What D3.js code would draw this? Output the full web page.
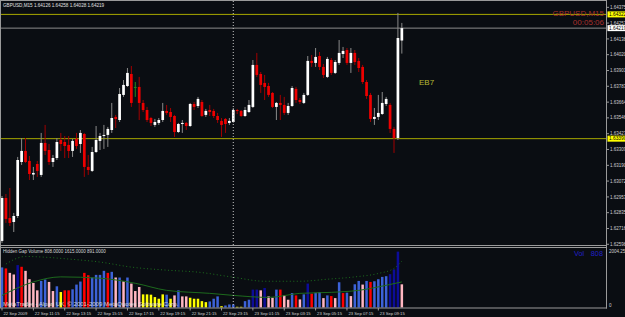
<!DOCTYPE html>
<html>
<head>
<meta charset="utf-8">
<script src="https://cdnjs.cloudflare.com/ajax/libs/d3/7.8.5/d3.min.js"></script>
<style>
body { margin: 0; background: #0a0d12; }
svg { display: block; }
text { font-family: "Liberation Sans", Arial, sans-serif; }
</style>
</head>
<body>
<div id="chart"></div>
<script>
// GBPUSD M15 bars, 22 Sep 09:15 .. 23 Sep 10:45
var symbol = "GBPUSD,M15";

var openP = [1.62623,1.62945,1.62795,1.62765,1.62810,1.63215,1.63298,1.63223,1.63121,1.63200,
 1.63118,1.63358,1.63305,1.63215,1.63245,1.63380,1.63365,1.63343,1.63298,1.63388,
 1.63350,1.63425,1.63178,1.63148,1.63290,1.63373,1.63410,1.63418,1.63455,1.63553,
 1.63530,1.63718,1.63785,1.63875,1.63778,1.63778,1.63658,1.63605,1.63545,1.63493,
 1.63508,1.63530,1.63598,1.63590,1.63560,1.63440,1.63500,1.63508,1.63485,1.63650,
 1.63635,1.63665,1.63568,1.63605,1.63598,1.63560,1.63523,1.63538,1.63508,1.63515,
 1.63605,1.63598,1.63560,1.63590,1.63628,1.63943,1.63875,1.63808,1.63785,1.63733,
 1.63628,1.63658,1.63643,1.63583,1.63635,1.63763,1.63680,1.63658,1.63718,1.63973,
 1.63958,1.64010,1.63928,1.63853,1.63980,1.63883,1.63958,1.64025,1.64055,1.63958,
 1.64033,1.63973,1.63928,1.63815,1.63718,1.63538,1.63553,1.63575,1.63650,1.63643,
 1.63463,1.63395,1.64126];

var highP = [1.62960,1.62975,1.63020,1.62833,1.63253,1.63395,1.63395,1.63260,1.63178,1.63223,
 1.63433,1.63493,1.63350,1.63268,1.63395,1.63433,1.63410,1.63410,1.63388,1.63433,
 1.63455,1.63433,1.63268,1.63328,1.63485,1.63433,1.63493,1.63478,1.63658,1.63568,
 1.63770,1.63830,1.63920,1.63935,1.63815,1.63853,1.63680,1.63628,1.63553,1.63538,
 1.63545,1.63658,1.63643,1.63620,1.63568,1.63508,1.63530,1.63515,1.63658,1.63665,
 1.63703,1.63680,1.63613,1.63643,1.63613,1.63583,1.63545,1.63545,1.63545,1.63620,
 1.63613,1.63605,1.63628,1.63680,1.63980,1.64033,1.63890,1.63868,1.63808,1.63740,
 1.63665,1.63718,1.63703,1.63658,1.63785,1.63778,1.63695,1.63733,1.64010,1.64018,
 1.64070,1.64040,1.63950,1.64003,1.63995,1.63980,1.64130,1.64078,1.64070,1.64070,
 1.64055,1.63995,1.63943,1.63830,1.63733,1.63620,1.63718,1.63740,1.63703,1.63658,
 1.63478,1.64333,1.64258];

var lowP = [1.62608,1.62758,1.62735,1.62690,1.62795,1.63193,1.63208,1.63080,1.63080,1.63103,
 1.63103,1.63268,1.63193,1.63178,1.63230,1.63298,1.63245,1.63245,1.63253,1.63313,
 1.63283,1.63103,1.63118,1.63140,1.63283,1.63305,1.63313,1.63328,1.63433,1.63470,
 1.63515,1.63703,1.63778,1.63628,1.63703,1.63530,1.63590,1.63515,1.63485,1.63478,
 1.63493,1.63515,1.63568,1.63515,1.63403,1.63433,1.63433,1.63455,1.63478,1.63605,
 1.63620,1.63553,1.63553,1.63560,1.63545,1.63508,1.63403,1.63433,1.63493,1.63508,
 1.63575,1.63553,1.63553,1.63583,1.63620,1.63853,1.63733,1.63680,1.63703,1.63620,
 1.63530,1.63530,1.63568,1.63568,1.63628,1.63658,1.63650,1.63650,1.63710,1.63928,
 1.63928,1.63905,1.63845,1.63845,1.63868,1.63875,1.63943,1.63995,1.63943,1.63883,
 1.63943,1.63890,1.63800,1.63688,1.63515,1.63493,1.63530,1.63568,1.63635,1.63433,
 1.63283,1.63380,1.64028];

var closeP = [1.62945,1.62788,1.62758,1.62810,1.63230,1.63298,1.63215,1.63125,1.63133,1.63148,
 1.63358,1.63298,1.63215,1.63245,1.63365,1.63350,1.63335,1.63298,1.63373,1.63335,
 1.63433,1.63178,1.63155,1.63290,1.63380,1.63410,1.63418,1.63463,1.63545,1.63538,
 1.63725,1.63793,1.63883,1.63658,1.63778,1.63658,1.63605,1.63530,1.63508,1.63515,
 1.63530,1.63598,1.63583,1.63553,1.63440,1.63500,1.63508,1.63485,1.63650,1.63628,
 1.63688,1.63560,1.63598,1.63590,1.63560,1.63530,1.63493,1.63500,1.63523,1.63605,
 1.63598,1.63560,1.63605,1.63643,1.63943,1.63868,1.63793,1.63778,1.63718,1.63628,
 1.63658,1.63643,1.63583,1.63635,1.63770,1.63680,1.63665,1.63718,1.63973,1.63958,
 1.64003,1.63928,1.63868,1.63988,1.63883,1.63965,1.64033,1.64048,1.63958,1.64033,
 1.63965,1.63920,1.63815,1.63710,1.63538,1.63553,1.63583,1.63658,1.63688,1.63463,
 1.63395,1.64145,1.64219];

// hidden gap volume histogram
var volume = [1397,1362,1207,1151,1478,1419,1278,986,855,598,
 926,975,891,574,739,539,598,598,634,799,
 905,1207,1126,1045,1137,1137,1278,1207,1243,1045,
 1045,915,1045,834,574,715,458,458,447,363,
 306,458,447,306,422,598,387,387,341,306,
 306,222,187,211,306,387,46,70,106,106,
 25,25,222,271,623,623,598,679,387,341,
 623,623,422,271,503,422,282,458,834,482,
 517,539,327,422,398,327,880,503,517,398,
 810,926,799,926,891,915,986,1067,1091,1162,
 1327,1947,808];

var volKind = ("b r p p n r p p p p b b p p b y r r b b " +
 "b r r b b b b r b p b p b p p p y y y y " +
 "y y b y p b p p y y y y y b b b y b b b " +
 "y y b b n n p n p p b r p p b r p b n r " +
 "b b p b r p b r b p b b p b r b b b b n n n p").split(" ");

// the two averages on the volume window, read at a few bars
var maSlowBars = [1,4,6,10,17,25,33,42,50,59,67,76,83,90,96,100,102];
var maSlowVals = [1514,1725,1780,1760,1690,1584,1408,1302,1232,1056,915,915,986,1067,1186,1362,1615];
var maFastBars = [0,8,15,25,34,42,53,59,68,76,84,91,98,102];
var maFastVals = [422,891,1067,1021,845,598,493,422,352,493,528,598,774,891];

var timeLabels = ["22 Sep 2009","22 Sep 11:15","22 Sep 13:15","22 Sep 15:15","22 Sep 17:15",
 "22 Sep 19:15","22 Sep 21:15","22 Sep 23:15","23 Sep 01:15","23 Sep 03:15",
 "23 Sep 05:15","23 Sep 07:15","23 Sep 09:15"];
var timeLabelBars = [0,8,16,24,32,40,48,56,64,72,80,88,96];
var daySeparatorBar = 59;

var priceTicks = ["1.64375","1.64257","1.64138","1.64020","1.63901","1.63783","1.63664","1.63546",
 "1.63427","1.63309","1.63190","1.63072","1.62953","1.62835","1.62716","1.62598"];
var levelLines = [1.64322, 1.63390];
var bidPrice = 1.64219;
var volMax = 2004.25;
var maLegend = [808, 1615, 891];
var timer = "00:05:06";

var svg = d3.select("#chart").append("svg")
    .attr("width", 625)
    .attr("height", 317)
    .style("background", "#0a0d12");

var x = d3.scaleLinear().domain([0, openP.length - 1]).range([2, 2 + 3.92 * (openP.length - 1)]);
var y = d3.scaleLinear().domain([1.6443, 1.625925]).range([0, 245]);
var yv = d3.scaleLinear().domain([0, volMax]).range([307.5, 250]);

var defs = svg.append("defs");
defs.append("clipPath").attr("id", "mainclip")
    .append("rect").attr("x", 1).attr("y", 1).attr("width", 605).attr("height", 244);
defs.append("clipPath").attr("id", "volclip")
    .append("rect").attr("x", 1).attr("y", 248).attr("width", 605).attr("height", 60);

var main = svg.append("g").attr("clip-path", "url(#mainclip)");
var volg = svg.append("g").attr("clip-path", "url(#volclip)");

//level lines and bid line
main.selectAll(".level")
    .data(levelLines)
    .enter()
    .append("line")
        .attr("x1", 0).attr("x2", 607)
        .attr("y1", function(d) { return y(d); })
        .attr("y2", function(d) { return y(d); })
        .style("stroke", "#a8a800")
        .style("stroke-width", 1);

main.append("line")
    .attr("x1", 0).attr("x2", 607)
    .attr("y1", y(bidPrice)).attr("y2", y(bidPrice))
    .style("stroke", "#8c8c8c")
    .style("stroke-width", 1);

var bars = d3.range(openP.length);

//wicks
main.selectAll(".wick")
    .data(bars)
    .enter()
    .append("line")
        .attr("x1", function(i) { return x(i); })
        .attr("x2", function(i) { return x(i); })
        .attr("y1", function(i) { return y(highP[i]); })
        .attr("y2", function(i) { return y(lowP[i]); })
        .style("stroke", function(i) {
            if (closeP[i] == openP[i]) return "#1f8a1f";
            return closeP[i] > openP[i] ? "#8a8a8a" : "#a00000";
        })
        .style("stroke-width", 1);

//bodies
main.selectAll(".body")
    .data(bars)
    .enter()
    .append("rect")
        .attr("x", function(i) { return x(i) - 1.35; })
        .attr("width", 2.7)
        .attr("y", function(i) { return y(Math.max(openP[i], closeP[i])); })
        .attr("height", function(i) {
            return Math.max(1, Math.abs(y(openP[i]) - y(closeP[i])));
        })
        .style("fill", function(i) {
            if (closeP[i] == openP[i]) return "#1f8a1f";
            return closeP[i] > openP[i] ? "#ffffff" : "#ee0000";
        });

main.append("text")
    .attr("x", 419).attr("y", 85)
    .attr("font-size", "8px")
    .style("fill", "#b9b932")
    .text("EB7");

main.append("text")
    .attr("x", 3).attr("y", 7)
    .attr("font-size", "4.6px")
    .style("fill", "#e0e0e0")
    .text(symbol + "  " + openP[102].toFixed(5) + " " + highP[102].toFixed(5) + " " +
          lowP[102].toFixed(5) + " " + closeP[102].toFixed(5));

main.append("text")
    .attr("x", 604).attr("y", 16)
    .attr("text-anchor", "end")
    .attr("font-size", "8px")
    .style("fill", "#a8302c")
    .text(symbol);

main.append("text")
    .attr("x", 604).attr("y", 25)
    .attr("text-anchor", "end")
    .attr("font-size", "8px")
    .style("fill", "#a8302c")
    .text(timer);

//volume window
var volColors = { b: "#3c62d8", n: "#0c0c98", r: "#ff0000", p: "#ffb6c1", y: "#ffff00" };

volg.selectAll(".vol")
    .data(bars)
    .enter()
    .append("rect")
        .attr("x", function(i) { return x(i) - 1.25; })
        .attr("width", 2.5)
        .attr("y", function(i) { return yv(volume[i]); })
        .attr("height", function(i) { return yv(0) - yv(volume[i]); })
        .style("fill", function(i) { return volColors[volKind[i]]; });

var maLine = d3.line()
    .x(function(d) { return x(d[0]); })
    .y(function(d) { return yv(d[1]); })
    .curve(d3.curveMonotoneX);

volg.append("path")
    .datum(maSlowBars.map(function(b, k) { return [b, maSlowVals[k]]; }))
    .attr("fill", "none")
    .style("stroke", "#1c6e1c")
    .style("stroke-width", 1)
    .style("stroke-dasharray", "1,2.5")
    .attr("d", maLine);

volg.append("path")
    .datum(maFastBars.map(function(b, k) { return [b, maFastVals[k]]; }))
    .attr("fill", "none")
    .style("stroke", "#1d6a1d")
    .style("stroke-width", 1)
    .attr("d", maLine);

volg.append("text")
    .attr("x", 3).attr("y", 253)
    .attr("font-size", "4.5px")
    .style("fill", "#d8d8d8")
    .text("Hidden Gap Volume " + maLegend.map(function(v) { return v.toFixed(4); }).join(" "));

volg.append("text")
    .attr("x", 574).attr("y", 255.5)
    .attr("font-size", "7.3px")
    .style("fill", "#2020c8")
    .text("Vol");

volg.append("text")
    .attr("x", 603).attr("y", 255.5)
    .attr("text-anchor", "end")
    .attr("font-size", "7.3px")
    .style("fill", "#2020c8")
    .text(volume[volume.length - 1]);

volg.append("text")
    .attr("x", 3).attr("y", 306)
    .attr("font-size", "6px")
    .style("fill", "#e8e8e8")
    .style("opacity", 0.85)
    .text("MetaTrader - Alpari UK, \u00a9 2001-2009 MetaQuotes Software Corp.");

//day separator
svg.append("line")
    .attr("x1", x(daySeparatorBar)).attr("x2", x(daySeparatorBar))
    .attr("y1", 1).attr("y2", 308)
    .style("stroke", "#c8c8c8")
    .style("stroke-width", 1)
    .style("stroke-dasharray", "1,2");

//frames
var frame = "#9a9a9a";
[[0, 0.5, 606.5, 0.5], [0.5, 0, 0.5, 308], [606.5, 0, 606.5, 308.5],
 [0, 245.5, 607, 245.5], [0, 247.5, 607, 247.5], [0, 308, 607, 308]].forEach(function(s) {
    svg.append("line")
        .attr("x1", s[0]).attr("y1", s[1]).attr("x2", s[2]).attr("y2", s[3])
        .style("stroke", frame)
        .style("stroke-width", 1);
});

//price scale
var pt = svg.selectAll(".ptick")
    .data(priceTicks)
    .enter()
    .append("g")
        .attr("transform", function(d) { return "translate(0," + y(+d) + ")"; });
pt.append("line")
    .attr("x1", 607).attr("x2", 609)
    .style("stroke", frame);
pt.append("text")
    .attr("x", 610).attr("y", 1.6)
    .attr("font-size", "4.5px")
    .style("fill", "#d0d0d0")
    .text(function(d) { return d; });

//highlighted price labels
function priceBox(value, bg) {
    var g = svg.append("g").attr("transform", "translate(0," + y(value) + ")");
    g.append("rect")
        .attr("x", 607.5).attr("y", -3).attr("width", 18).attr("height", 6)
        .style("fill", bg);
    g.append("text")
        .attr("x", 609).attr("y", 1.8)
        .attr("font-size", "4.8px")
        .style("fill", "#000")
        .text(value.toFixed(5));
}
levelLines.forEach(function(v) { priceBox(v, "#ffff00"); });
priceBox(bidPrice, "#ffffff");

//volume scale
svg.append("text")
    .attr("x", 609).attr("y", 252.5)
    .attr("font-size", "4.5px")
    .style("fill", "#d0d0d0")
    .text(volMax.toFixed(2));
svg.append("text")
    .attr("x", 609).attr("y", 307)
    .attr("font-size", "4.5px")
    .style("fill", "#d0d0d0")
    .text("0");

//time axis
var tt = svg.selectAll(".ttick")
    .data(timeLabelBars)
    .enter()
    .append("g")
        .attr("transform", function(d) { return "translate(" + x(d) + ",0)"; });
tt.append("line")
    .attr("x1", 0).attr("x2", 0)
    .attr("y1", 308).attr("y2", 310.5)
    .style("stroke", frame);
tt.append("text")
    .attr("x", 1.5).attr("y", 314.5)
    .attr("font-size", "4.2px")
    .style("fill", "#d0d0d0")
    .text(function(d, k) { return timeLabels[k]; });
</script>
</body>
</html>
